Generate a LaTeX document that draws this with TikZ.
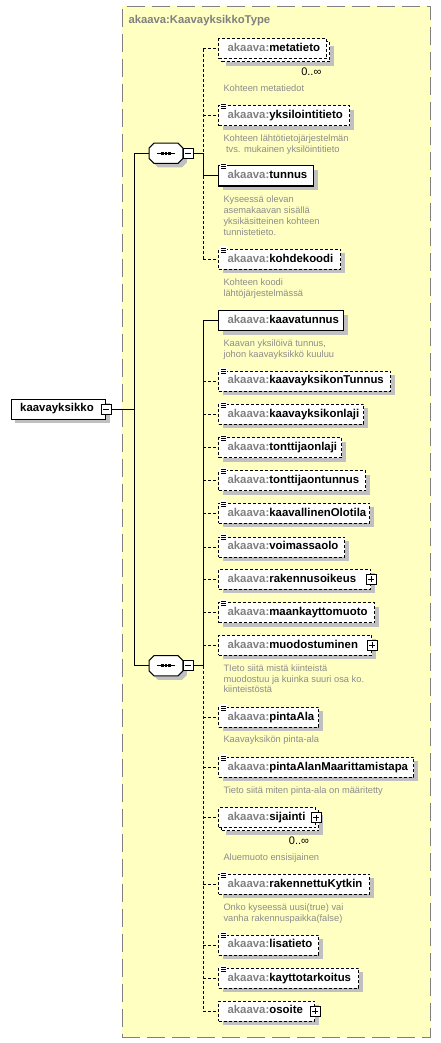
\documentclass[tikz,border=0pt]{standalone}
\usepackage{fontspec}
\setmainfont{Liberation Sans}
\usetikzlibrary{shadows,calc}
\definecolor{bgyellow}{RGB}{255,255,194}
\definecolor{framegray}{RGB}{128,128,128}
\definecolor{shadowgray}{RGB}{192,192,192}
\definecolor{pfxgray}{RGB}{128,128,128}
\definecolor{notegray}{RGB}{140,140,140}
\newcommand{\ak}{\textcolor{pfxgray}{akaava:}}
\newcommand{\elemfont}{\fontsize{11.4}{13}\selectfont\bfseries}
\newcommand{\notefont}{\fontsize{9.3}{10.9}\selectfont}
\newcommand{\seqshape}[1]{%
 \fill[shadowgray] ($(#1.north west)+(9,4)$) -- ($(#1.north east)+(-1,4)$) -- ($(#1.north east)+(4,9)$) -- ($(#1.south east)+(4,-1)$) -- ($(#1.south east)+(-1,4)$) -- ($(#1.south west)+(9,4)$) -- ($(#1.south west)+(4,-1)$) -- ($(#1.north west)+(4,9)$) -- cycle;
 \draw[fill=white,line width=1pt] ($(#1.north west)+(5,0)$) -- ($(#1.north east)+(-5,0)$) -- ($(#1.north east)+(0,5)$) -- ($(#1.south east)+(0,-5)$) -- ($(#1.south east)+(-5,0)$) -- ($(#1.south west)+(5,0)$) -- ($(#1.south west)+(0,-5)$) -- ($(#1.north west)+(0,5)$) -- cycle;
 \draw[line width=1pt] ($(#1.center)+(-9.2,0)$) -- ($(#1.center)+(9.2,0)$);
 \foreach \dx in {-3.6,0,3.6} \fill ($(#1.center)+(\dx-1.3,-1.5)$) rectangle +(2.6,3);
}
\tikzset{
 docicon/.pic={\fill[white] (1.5,-2.5) rectangle (9,4);
   \draw[line width=0.9pt] (3,-0.7) -- (8,-0.7) (3,1.3) -- (8,1.3) (3,3.3) -- (8,3.3);},
 shad/.style={drop shadow={shadow xshift=4pt,shadow yshift=-4pt,fill=shadowgray,opacity=1}},
 box/.style={draw=black, fill=white, line width=1pt, minimum height=20pt, inner xsep=9pt, inner ysep=0pt,
   text height=8.3pt, text depth=2.4pt, align=left, anchor=west, font=\elemfont},
 req/.style={box, shad},
 opt/.style={box, shad, dash pattern=on 3pt off 2pt},
 optns/.style={box, dash pattern=on 3pt off 2pt},
 note/.style={anchor=north west, inner sep=0pt, align=left, font=\notefont, text=notegray},
 mult/.style={inner sep=0pt, font=\fontsize{11}{13}\selectfont},
 sbox/.style={draw=black, fill=white, line width=0.8pt, minimum size=10pt, inner sep=0pt},
 minusbox/.style={sbox, path picture={\draw[line width=0.8pt] ([xshift=2pt]path picture bounding box.west) -- ([xshift=-2pt]path picture bounding box.east);}},
 plusbox/.style={sbox, path picture={\draw[line width=0.8pt] ([xshift=2pt]path picture bounding box.west) -- ([xshift=-2pt]path picture bounding box.east) ([yshift=2pt]path picture bounding box.south) -- ([yshift=-2pt]path picture bounding box.north);}},
 seqbox/.style={minimum width=33.4pt, minimum height=20pt, inner sep=0pt},
 conn/.style={line width=1pt, draw=black},
 optconn/.style={conn, dash pattern=on 3pt off 2pt},
 typebox/.style={draw=framegray, fill=bgyellow, line width=1pt, dash pattern=on 18pt off 7pt, inner sep=0pt, anchor=north west},
}
\begin{document}
\begin{tikzpicture}[x=1pt,y=-1pt]
\useasboundingbox (0,0) rectangle (441,1043);
\node[typebox, minimum width=308.3pt, minimum height=1031pt] (typebox) at (121.7,5.7) {};
\node[anchor=west, inner sep=0pt, text height=8.3pt, text depth=2.4pt, font=\fontsize{11.3}{13}\selectfont\bfseries, text=pfxgray] (typetitle) at (128.3,20.4) {akaava:KaavayksikkoType};

% root element
\node[req, text width=76.3pt] (kaavayksikko) at (10.7,409) {kaavayksikko};
\node[minusbox] (kmin) at (kaavayksikko.east) {};

% sequences
\node[seqbox] (seq1) at (166,153.3) {};
\seqshape{seq1}
\node[minusbox] (s1min) at (188.3,153.3) {};
\node[seqbox] (seq2) at (166,665.7) {};
\seqshape{seq2}
\node[minusbox] (s2min) at (188.3,665.7) {};

% first sequence
\node[opt, text width=90pt] (metaback) at (221,52) {};
\node[optns, text width=90pt] (metatieto) at (218,49) {\ak metatieto};
\node[mult] (metamult) at (311.3,71.7) {0..∞};
\node[note] (metanote) at (223.3,84.9) {Kohteen metatiedot};

\node[opt, text width=113pt] (yksilointitieto) at (218,116) {\ak yksilointitieto};
\pic at (yksilointitieto.north west) {docicon};
\node[note] (yksnote) at (223.3,134.2) {Kohteen lähtötietojärjestelmän\\\hspace*{2.6pt}tvs. mukainen yksilöintitieto};

\node[req, text width=77pt] (tunnus) at (218,176) {\ak tunnus};
\pic at (tunnus.north west) {docicon};
\node[note] (tunnusnote) at (223.3,195.5) {Kyseessä olevan\\asemakaavan sisällä\\yksikäsitteinen kohteen\\tunnistetieto.};

\node[opt, text width=104pt] (kohdekoodi) at (218,259.2) {\ak kohdekoodi};
\pic at (kohdekoodi.north west) {docicon};
\node[note] (kohdenote) at (223.3,278.2) {Kohteen koodi\\lähtöjärjestelmässä};

% second sequence
\node[req, text width=107pt] (kaavatunnus) at (218,320.5) {\ak kaavatunnus};
\node[note] (kaavatunnusnote) at (223.3,339.2) {Kaavan yksilöivä tunnus,\\johon kaavayksikkö kuuluu};

\node[opt, text width=154pt] (kaavayksikonTunnus) at (218,381) {\ak kaavayksikonTunnus};
\pic at (kaavayksikonTunnus.north west) {docicon};
\node[opt, text width=127pt] (kaavayksikonlaji) at (218,414.2) {\ak kaavayksikonlaji};
\pic at (kaavayksikonlaji.north west) {docicon};
\node[opt, text width=105pt] (tonttijaonlaji) at (218,447.5) {\ak tonttijaonlaji};
\pic at (tonttijaonlaji.north west) {docicon};
\node[opt, text width=129pt] (tonttijaontunnus) at (218,480.7) {\ak tonttijaontunnus};
\pic at (tonttijaontunnus.north west) {docicon};
\node[opt, text width=133pt] (kaavallinenOlotila) at (218,513.3) {\ak kaavallinenOlotila};
\pic at (kaavallinenOlotila.north west) {docicon};
\node[opt, text width=108pt] (voimassaolo) at (218,547) {\ak voimassaolo};
\pic at (voimassaolo.north west) {docicon};
\node[opt, text width=134pt] (rakennusoikeus) at (218,579.3) {\ak rakennusoikeus};
\node[plusbox] (rakplus) at (rakennusoikeus.east) {};
\node[opt, text width=138pt] (maankayttomuoto) at (218,612.5) {\ak maankayttomuoto};
\pic at (maankayttomuoto.north west) {docicon};
\node[opt, text width=135pt] (muodostuminen) at (218,645.3) {\ak muodostuminen};
\node[plusbox] (muoplus) at (muodostuminen.east) {};
\node[note] (muonote) at (223.3,664.2) {TIeto siitä mistä kiinteistä\\muodostuu ja kuinka suuri osa ko.\\kiinteistöstä};
\node[opt, text width=82pt] (pintaAla) at (218,717.3) {\ak pintaAla};
\pic at (pintaAla.north west) {docicon};
\node[note] (pintanote) at (223.3,735.8) {Kaavayksikön pinta-ala};
\node[opt, text width=177pt] (pintaAlanMaarittamistapa) at (218,767.3) {\ak pintaAlanMaarittamistapa};
\pic at (pintaAlanMaarittamistapa.north west) {docicon};
\node[note] (tapanote) at (223.3,786.5) {Tieto siitä miten pinta-ala on määritetty};
\node[opt, text width=79pt] (sijback) at (221,820.8) {};
\node[optns, text width=79pt] (sijainti) at (218,817.8) {\ak sijainti};
\node[plusbox] (sijplus) at (sijainti.east) {};
\node[mult] (sijmult) at (299,840.7) {0..∞};
\node[note] (sijnote) at (223.3,853.2) {Aluemuoto ensisijainen};
\node[opt, text width=133pt] (rakennettuKytkin) at (218,884.3) {\ak rakennettuKytkin};
\pic at (rakennettuKytkin.north west) {docicon};
\node[note] (kytkinnote) at (223.3,903.2) {Onko kyseessä uusi(true) vai\\vanha rakennuspaikka(false)};
\node[opt, text width=82pt] (lisatieto) at (218,945) {\ak lisatieto};
\pic at (lisatieto.north west) {docicon};
\node[opt, text width=122pt] (kayttotarkoitus) at (218,978.3) {\ak kayttotarkoitus};
\pic at (kayttotarkoitus.north west) {docicon};
\node[opt, text width=78pt] (osoite) at (218,1011) {\ak osoite};
\node[plusbox] (osoplus) at (osoite.east) {};

% connectors
\coordinate (j1) at (203.3,153.3);
\coordinate (j2) at (203.3,665.7);
\coordinate (a1) at (134.5,153.3);
\coordinate (a2) at (134.5,665.7);
\coordinate (a0) at (134.5,409);
\draw[conn] (kmin.east) -- (a0);
\draw[conn] (a1) -- (a2);
\draw[conn] (a1) -- (seq1.west);
\draw[conn] (a2) -- (seq2.west);
\draw[conn] (s1min.east) -- (j1);
\draw[conn] (s2min.east) -- (j2);
\draw[optconn] (metatieto.west -| j1) -- (j1);
\draw[conn] (j1) -- (tunnus.west -| j1);
\draw[optconn] (tunnus.west -| j1) -- (kohdekoodi.west -| j1);
\foreach \n in {metatieto,yksilointitieto,kohdekoodi} \draw[optconn] (\n.west -| j1) -- (\n.west);
\draw[conn] (tunnus.west -| j1) -- (tunnus.west);
\draw[conn] (kaavatunnus.west -| j2) -- (j2);
\draw[optconn] (j2) -- (osoite.west -| j2);
\draw[conn] (kaavatunnus.west -| j2) -- (kaavatunnus.west);
\foreach \n in {kaavayksikonTunnus,kaavayksikonlaji,tonttijaonlaji,tonttijaontunnus,kaavallinenOlotila,voimassaolo,rakennusoikeus,maankayttomuoto,muodostuminen,pintaAla,pintaAlanMaarittamistapa,sijainti,rakennettuKytkin,lisatieto,kayttotarkoitus,osoite} \draw[optconn] (\n.west -| j2) -- (\n.west);
\end{tikzpicture}
\end{document}
